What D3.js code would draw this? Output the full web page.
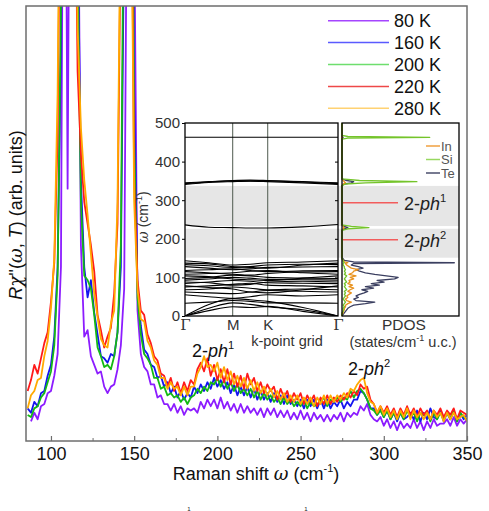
<!DOCTYPE html>
<html>
<head>
<meta charset="utf-8">
<script src="https://cdn.jsdelivr.net/npm/d3@7"></script>
<style>
  body { margin: 0; background: #fff; }
  svg { display: block; font-family: "Liberation Sans", Arial, sans-serif; }
</style>
</head>
<body>
<svg id="chart" width="489" height="511"></svg>
<script>
// Raman shift grid (cm^-1), 2 cm^-1 step
var shift = d3.range(86, 351, 2);

// values (arb. units, 100 = top of frame)
var temps = ['80 K', '160 K', '200 K', '220 K', '280 K'];

var k80 = [null, 4.5, 6.5, 5, 8, 8.5, 11, 11.5, 15, 20, 40, 200, 58, 200, 200, 150, 45, 24, 25.5, 19.5,
  17.5, 15.5, 16, 12.5, 11, 12.5, 13, 16.5, 22, 35, 150, 200, 120, 30, 20, 17, 16, 13, 13, 10,
  10.5, 8.5, 8.5, 7, 8.5, 6.5, 8, 6, 7.5, 7, 7.5, 6.5, 9, 7.5, 9.5, 8, 9.5, 7.5, 10, 7.5,
  9, 7, 8.5, 6.5, 8.5, 6.5, 8, 6.5, 7.5, 6, 7.5, 5.5, 7.5, 6, 7.5, 5.5, 7, 5.5, 7, 5,
  6.5, 5, 7, 5, 6.5, 4.5, 6.5, 5, 6, 4.5, 6, 4.5, 6, 5, 6.5, 4.5, 6.5, 5.5, 6.5, 6,
  8, 7, 8.5, 6, 5, 4.5, 5.5, 3.5, 5, 3, 4.5, 2.5, 4.5, 3, 4, 3, 5, 3, 4.5, 2.5,
  4.5, 3, 5, 3.5, 4, 4, 5, 3.5, 5.5, 3.5, 5, 4, 5];
var k160 = [7.5, 6.5, 9, 8, 11, 11.5, 15, 17.5, 24, 40, 90, 200, 200, 200, 200, 120, 60, 40, 33, 37,
  29.5, 24.5, 19.5, 19, 18, 20, 19.5, 25, 40, 120, 200, 200, 80, 35, 26.5, 21, 20, 17.5, 17, 14.5,
  15, 12.5, 13.5, 11, 12.5, 10, 11.5, 9.5, 11, 10, 12.5, 11, 13, 11.5, 13.5, 12, 14.5, 12.5, 14, 12,
  13.5, 11, 13, 10.5, 12.5, 10.5, 12.5, 10, 12, 9.5, 11.5, 9.5, 11, 9, 11, 9, 10.5, 8.5, 10.5, 8.5,
  9.5, 8, 9.5, 7.5, 9.5, 8, 9.5, 7.5, 9.5, 7.5, 9.5, 7.5, 9, 8, 9.5, 7.5, 9, 8, 9.5, 9.5,
  11.5, 11, 9.5, 7.5, 7.5, 6, 7.5, 5.5, 7, 5, 6.5, 4.5, 6.5, 5, 5.5, 6.5, 5, 7, 4.5, 6.5,
  5, 7.5, 5.5, 5, 7, 4.5, 6.5, 5, 7, 4.5, 6.5, 5, 6];
var k200 = [6, 5.5, 7.5, 8, 10, 11, 13.5, 16, 22, 38, 100, 200, 200, 200, 200, 110, 55, 38, 37, 35,
  29, 21.5, 19.5, 17, 17.5, 16.5, 19.5, 25, 45, 140, 200, 200, 70, 33, 24.5, 20, 19, 17.5, 14.5, 14.5,
  12, 12.5, 10.5, 11, 10, 10.5, 9, 10, 8.5, 10, 10.5, 12, 11, 12.5, 11.5, 13.5, 13, 14.5, 12.5, 14,
  12, 13.5, 11.5, 13, 11, 12, 10.5, 12, 10, 11.5, 9.5, 11, 9.5, 10.5, 9, 10, 8.5, 10, 8.5, 9.5,
  8, 9, 8, 9.5, 7.5, 9, 8, 8.5, 9, 10, 8, 9.5, 9, 10, 9, 10, 9.5, 11.5, 10, 11.5,
  12, 11, 9.5, 7.5, 7, 6, 7, 5.5, 7, 5, 6.5, 5, 6.5, 5, 7, 5.5, 6.5, 4.5, 6.5, 6,
  6.5, 4.5, 6.5, 5, 6.5, 5, 6.5, 5, 7, 4.5, 6.5, 5.5, 5];
var k220 = [11.5, 14, 17.5, 15.5, 19, 22.5, 25, 32, 41, 70, 150, 200, 200, 200, 150, 85, 66, 55, 50, 45,
  39, 29, 25.5, 21.5, 24, 26, 34, 50, 120, 200, 200, 150, 60, 37, 30, 29, 24.5, 22.5, 19.5, 18.5,
  15.5, 15, 12.5, 14.5, 11.5, 13.5, 11, 13.5, 11.5, 14, 13, 16.5, 18, 16, 19, 15, 17.5, 14, 16.5, 13.5,
  16.5, 13, 15.5, 12.5, 15, 12, 15.5, 13, 14.5, 11.5, 13.5, 11, 13, 11.5, 12.5, 9.5, 12, 10, 11.5, 9,
  11, 9.5, 11, 8.5, 10.5, 9, 10.5, 8, 10, 8.5, 10.5, 8.5, 10, 9, 10.5, 9.5, 11, 10, 11.5, 10.5,
  13, 12, 12.5, 9.5, 8.5, 6.5, 8, 6.5, 8, 6, 7.5, 5.5, 7.5, 6, 8, 6, 7.5, 5.5, 7.5, 6,
  7, 5, 7, 6, 7.5, 5.5, 7, 6, 7.5, 5, 7, 6.5, 6];
var k280 = [7.5, 10.5, 11.5, 14, 14.5, 19.5, 23, 30.5, 42, 80, 160, 200, 200, 200, 160, 95, 72, 60, 52, 43,
  34, 28.5, 23.5, 22, 21.5, 27, 30, 55, 130, 200, 200, 140, 55, 35, 28, 27.5, 23, 21.5, 18.5, 17.5,
  14.5, 14.5, 12, 13.5, 12, 12.5, 10.5, 12.5, 10.5, 12.5, 12.5, 15.5, 17, 19.5, 17, 17.5, 16, 18, 14.5, 17,
  14, 16, 13, 15, 12.5, 14.5, 12, 14, 11.5, 13.5, 11, 12.5, 10.5, 12, 10, 11.5, 9.5, 11, 9, 10.5,
  9, 10.5, 8.5, 10, 8.5, 10, 8, 10, 8.5, 10.5, 8.5, 10.5, 9, 10.5, 9.5, 11, 10, 12, 11.5, 13,
  14, 14.5, 11, 9, 8.5, 6.5, 8, 6, 7.5, 5.5, 7, 5, 7, 5.5, 7.5, 5, 7, 5.5, 6.5, 5,
  6.5, 5, 7, 5.5, 6.5, 4.5, 6.5, 5, 6.5, 5, 5.5, 6, 4.5];

var lineColors = ['#8c1cff', '#1414f0', '#14b914', '#ff1a1a', '#ffaa00'];
var legendColors = ['#a545ff', '#5a5aff', '#6ede6e', '#ee4848', '#ffd272'];

// inset: phonon bands along Gamma-M-K-Gamma (cm^-1)
var kLabels = ['Γ', 'M', 'K', 'Γ'];
var kTicks = [0, 1, 1.734, 3.207];
var kPath = [0, 0.5, 1, 1.367, 1.734, 2.47, 3.207];
var bands = [
  [0, 14, 24, 22, 25, 12, 0],
  [0, 20, 34, 30, 24, 16, 0],
  [0, 30, 45, 42, 38, 22, 0],
  [33, 36, 40, 38, 34, 34, 33],
  [55, 50, 46, 50, 55, 52, 55],
  [62, 60, 58, 62, 66, 64, 62],
  [68, 70, 75, 72, 68, 70, 68],
  [75, 78, 82, 85, 80, 78, 75],
  [78, 74, 70, 62, 60, 68, 78],
  [84, 88, 92, 90, 86, 85, 84],
  [88, 86, 80, 82, 88, 90, 88],
  [93, 96, 100, 98, 95, 94, 93],
  [97, 100, 106, 104, 100, 98, 97],
  [104, 102, 96, 94, 92, 98, 104],
  [108, 110, 112, 116, 118, 112, 108],
  [115, 112, 108, 106, 110, 114, 115],
  [118, 120, 122, 118, 115, 117, 118],
  [128, 124, 120, 122, 126, 127, 128],
  [133, 130, 126, 128, 132, 134, 133],
  [137, 135, 128, 126, 124, 132, 137],
  [143, 138, 132, 134, 138, 140, 143],
  [236, 230, 229, 228, 228, 231, 237],
  [341, 346, 348, 349, 348, 345, 341],
  [343, 347, 350, 350, 350, 347, 343],
  [345, 348, 351, 352, 351, 348, 345],
  [463, 463, 463, 463, 463, 463, 463]
];
var gaps = [[151, 226], [233, 337]];
var twoPhonon = [{ w: 293.5, sup: '1' }, { w: 197.7, sup: '2' }];

// inset: projected DOS
var pdosW = [0, 4, 8, 12, 16, 20, 24, 28, 32, 36, 40, 44, 48, 52, 56, 60, 64, 68, 72, 76, 80, 84, 88, 92, 96, 100, 104, 108, 112, 116, 120, 124, 128, 132, 136, 138, 140, 144, 148, 152, 222, 226, 229, 232, 236, 338, 342, 345, 348, 351, 355, 458, 461, 463, 465, 468, 500];
var pdosTe = [0, 0.01, 0.02, 0.03, 0.04, 0.05, 0.07, 0.1, 0.2, 0.28, 0.12, 0.1, 0.14, 0.12, 0.15, 0.19, 0.22, 0.17, 0.27, 0.2, 0.32, 0.25, 0.36, 0.3, 0.45, 0.48, 0.38, 0.28, 0.2, 0.15, 0.12, 0.18, 0.14, 0.08, 0.1, 0.96, 0.1, 0.02, 0.01, 0, 0, 0.02, 0.05, 0.02, 0, 0, 0.02, 0.08, 0.1, 0.04, 0, 0, 0, 0.01, 0, 0, 0];
var pdosIn = [0, 0, 0.01, 0.01, 0.02, 0.02, 0.03, 0.03, 0.05, 0.08, 0.04, 0.03, 0.05, 0.04, 0.06, 0.08, 0.05, 0.07, 0.1, 0.06, 0.09, 0.05, 0.07, 0.06, 0.1, 0.07, 0.12, 0.06, 0.09, 0.1, 0.14, 0.08, 0.06, 0.04, 0.03, 0.05, 0.02, 0.01, 0, 0, 0, 0.01, 0.02, 0.01, 0, 0, 0.01, 0.03, 0.02, 0.01, 0, 0, 0, 0, 0, 0, 0];
var pdosSi = [0, 0, 0, 0.01, 0.01, 0.01, 0.02, 0.01, 0.02, 0.03, 0.02, 0.01, 0.02, 0.03, 0.02, 0.03, 0.02, 0.04, 0.03, 0.02, 0.03, 0.02, 0.04, 0.03, 0.02, 0.03, 0.04, 0.02, 0.03, 0.02, 0.03, 0.02, 0.02, 0.01, 0.01, 0.02, 0.01, 0.01, 0, 0, 0, 0.05, 0.23, 0.08, 0, 0, 0.03, 0.2, 0.64, 0.15, 0, 0, 0.05, 0.75, 0.05, 0, 0];
var pdosSpecies = ['In', 'Si', 'Te'];
var pdosColors = { In: '#e8921e', Si: '#74c42a', Te: '#3b3f60' };
var pdosLegendColors = { In: '#f0a040', Si: '#98d860', Te: '#4a4e6c' };

var svg = d3.select('#chart');

// ---------- main spectra ----------
var x = d3.scaleLinear().domain([85, 350]).range([26, 467]);
var y = d3.scaleLinear().domain([0, 100]).range([441, 6]);

svg.append('clipPath').attr('id', 'mainClip')
  .append('rect').attr('x', 26).attr('y', 6).attr('width', 441).attr('height', 435);

var series = [k80, k160, k200, k220, k280];
var line = d3.line()
  .defined(d => d[1] !== null)
  .x(d => x(d[0]))
  .y(d => y(d[1]));

var spectra = svg.append('g').attr('clip-path', 'url(#mainClip)');
series.forEach((vals, i) => {
  spectra.append('path')
    .datum(shift.map((w, j) => [w, vals[j]]))
    .attr('d', line)
    .attr('fill', 'none')
    .attr('stroke', lineColors[i])
    .attr('stroke-width', 1.8)
    .attr('stroke-linejoin', 'round');
});

// frame
svg.append('rect')
  .attr('x', 26).attr('y', 6).attr('width', 441).attr('height', 435)
  .attr('fill', 'none').attr('stroke', '#6e6e6e').attr('stroke-width', 1.5);

var xAxis = svg.append('g')
  .attr('transform', 'translate(0,441)')
  .call(d3.axisBottom(x).tickValues([100, 150, 200, 250, 300, 350])
    .tickSize(-5).tickPadding(6).tickFormat(d3.format('d')));
xAxis.select('.domain').remove();
xAxis.selectAll('line').attr('stroke', '#6e6e6e').attr('stroke-width', 1.2);
xAxis.selectAll('text').attr('font-size', 18).attr('fill', '#111')
  .attr('font-family', '"Liberation Sans", Arial, sans-serif');

var xMinor = svg.append('g')
  .attr('transform', 'translate(0,441)')
  .call(d3.axisBottom(x).tickValues([125, 175, 225, 275, 325]).tickSize(-3).tickFormat(''));
xMinor.select('.domain').remove();
xMinor.selectAll('line').attr('stroke', '#6e6e6e');

// axis titles
var xt = svg.append('text').attr('x', 256).attr('y', 480)
  .attr('text-anchor', 'middle').attr('font-size', 18).attr('fill', '#111');
xt.append('tspan').text('Raman shift ');
xt.append('tspan').attr('font-family', '"DejaVu Serif", serif').attr('font-style', 'italic').text('ω');
xt.append('tspan').text(' (cm');
xt.append('tspan').attr('font-size', 11).attr('dy', -8).text('-1');
xt.append('tspan').attr('dy', 8).text(')');

var yt = svg.append('text')
  .attr('transform', 'translate(22,215) rotate(-90)')
  .attr('text-anchor', 'middle').attr('font-size', 18).attr('fill', '#111');
yt.append('tspan').attr('font-style', 'italic').text('R');
yt.append('tspan').attr('font-family', '"DejaVu Serif", serif').attr('font-style', 'italic').text('χ');
yt.append('tspan').text("''(");
yt.append('tspan').attr('font-family', '"DejaVu Serif", serif').attr('font-style', 'italic').text('ω');
yt.append('tspan').text(', ');
yt.append('tspan').attr('font-style', 'italic').text('T');
yt.append('tspan').text(') (arb. units)');

// legend
var legend = svg.append('g');
temps.forEach((t, i) => {
  var ly = 20.7 + i * 21.9;
  legend.append('line')
    .attr('x1', 328).attr('x2', 389).attr('y1', ly).attr('y2', ly)
    .attr('stroke', legendColors[i]).attr('stroke-width', 1.5);
  legend.append('text').attr('x', 394).attr('y', ly + 6.5)
    .attr('font-size', 18).attr('fill', '#111').text(t);
});

// peak labels on the spectra
function twoPh(g, px, py, sup, size) {
  var t = g.append('text').attr('x', px).attr('y', py).attr('font-size', size).attr('fill', '#111');
  t.append('tspan').text('2-');
  t.append('tspan').attr('font-style', 'italic').text('ph');
  t.append('tspan').attr('font-size', size * 0.62).attr('dy', -size * 0.45).text(sup);
  return t;
}
twoPh(svg, 192, 357, '1', 18);
twoPh(svg, 348, 375, '2', 18);

// small marks of a caption line below the figure
[189, 306].forEach(px => {
  svg.append('text').attr('x', px).attr('y', 510.5).attr('font-size', 6)
    .attr('text-anchor', 'middle').attr('fill', '#222').text('1');
});

// ---------- inset ----------
var ins = svg.append('g');
var bx = d3.scaleLinear().domain([0, 3.207]).range([185, 338]);
var wy = d3.scaleLinear().domain([0, 500]).range([316, 123]);
var px = d3.scaleLinear().domain([0, 1]).range([342, 459]);

ins.append('rect').attr('x', 185).attr('y', 123).attr('width', 274).attr('height', 193).attr('fill', '#fff');
gaps.forEach(g => {
  ins.append('rect')
    .attr('x', 185).attr('width', 274)
    .attr('y', wy(g[1])).attr('height', wy(g[0]) - wy(g[1]))
    .attr('fill', '#e6e6e6');
});

// k-point verticals
kTicks.slice(1, 3).forEach(k => {
  ins.append('line').attr('x1', bx(k)).attr('x2', bx(k)).attr('y1', 123).attr('y2', 316)
    .attr('stroke', '#4f5a4f').attr('stroke-width', 1);
});

ins.append('clipPath').attr('id', 'bandClip')
  .append('rect').attr('x', 185).attr('y', 123).attr('width', 153).attr('height', 193);
var bandLine = d3.line().x((d, i) => bx(kPath[i])).y(d => wy(d)).curve(d3.curveMonotoneX);
var bandG = ins.append('g').attr('clip-path', 'url(#bandClip)');
bands.forEach(b => {
  bandG.append('path').attr('d', bandLine(b))
    .attr('fill', 'none').attr('stroke', '#000').attr('stroke-width', 1.1);
});

ins.append('rect').attr('x', 185).attr('y', 123).attr('width', 153).attr('height', 193)
  .attr('fill', 'none').attr('stroke', '#000').attr('stroke-width', 1.3);

var wAxis = ins.append('g').attr('transform', 'translate(185,0)')
  .call(d3.axisLeft(wy).tickValues([0, 100, 200, 300, 400, 500]).tickSize(3).tickPadding(2));
wAxis.select('.domain').remove();
wAxis.selectAll('text').attr('font-size', 15).attr('fill', '#333')
  .attr('font-family', '"Liberation Sans", Arial, sans-serif');
var wRight = ins.append('g').attr('transform', 'translate(338,0)')
  .call(d3.axisRight(wy).tickValues([100, 200, 300, 400]).tickSize(-3).tickFormat(''));
wRight.select('.domain').remove();

var kAxis = ins.append('g').attr('transform', 'translate(0,316)')
  .call(d3.axisBottom(bx).tickValues(kTicks).tickSize(0).tickPadding(3).tickFormat((d, i) => kLabels[i]));
kAxis.select('.domain').remove();
kAxis.selectAll('text').attr('font-size', 15).attr('fill', '#333')
  .attr('font-family', d => d === 0 || d === 3.207 ? '"DejaVu Serif", serif' : '"Liberation Sans", Arial, sans-serif');

ins.append('text').attr('x', 287).attr('y', 346).attr('text-anchor', 'middle')
  .attr('font-size', 14.5).attr('fill', '#333').text('k-point grid');

var wt = ins.append('text').attr('transform', 'translate(148,217) rotate(-90)')
  .attr('text-anchor', 'middle').attr('font-size', 14).attr('fill', '#333');
wt.append('tspan').attr('font-family', '"DejaVu Serif", serif').attr('font-style', 'italic').text('ω');
wt.append('tspan').text(' (cm');
wt.append('tspan').attr('font-size', 9).attr('dy', -6).text('-1');
wt.append('tspan').attr('dy', 6).text(')');

// PDOS panel
twoPhonon.forEach(p => {
  ins.append('line').attr('x1', 342).attr('x2', 398).attr('y1', wy(p.w)).attr('y2', wy(p.w))
    .attr('stroke', '#f25c5c').attr('stroke-width', 1.6);
  twoPh(ins, 404, wy(p.w) + 7.5, p.sup, 18).attr('fill', '#222');
});

var pdos = { In: pdosIn, Si: pdosSi, Te: pdosTe };
var pdosLine = d3.line().x(d => px(d[1])).y(d => wy(d[0]));
['Te', 'In', 'Si'].forEach(s => {
  ins.append('path').datum(pdosW.map((w, i) => [w, pdos[s][i]]))
    .attr('d', pdosLine).attr('fill', 'none')
    .attr('stroke', pdosColors[s]).attr('stroke-width', 1.3).attr('stroke-linejoin', 'round');
});

ins.append('rect').attr('x', 342).attr('y', 123).attr('width', 117).attr('height', 193)
  .attr('fill', 'none').attr('stroke', '#000').attr('stroke-width', 1.3);

pdosSpecies.forEach((s, i) => {
  var ly = 146 + i * 13.5;
  ins.append('line').attr('x1', 426).attr('x2', 440).attr('y1', ly).attr('y2', ly)
    .attr('stroke', pdosLegendColors[s]).attr('stroke-width', 1.5);
  ins.append('text').attr('x', 441).attr('y', ly + 4.5).attr('font-size', 13)
    .attr('fill', '#555').text(s);
});

ins.append('text').attr('x', 404).attr('y', 330).attr('text-anchor', 'middle')
  .attr('font-size', 15.5).attr('fill', '#333').text('PDOS');
var st = ins.append('text').attr('x', 403).attr('y', 347).attr('text-anchor', 'middle')
  .attr('font-size', 14.5).attr('fill', '#333');
st.append('tspan').text('(states/cm');
st.append('tspan').attr('font-size', 9).attr('dy', -6).text('-1');
st.append('tspan').attr('dy', 6).text(' u.c.)');
</script>
</body>
</html>
